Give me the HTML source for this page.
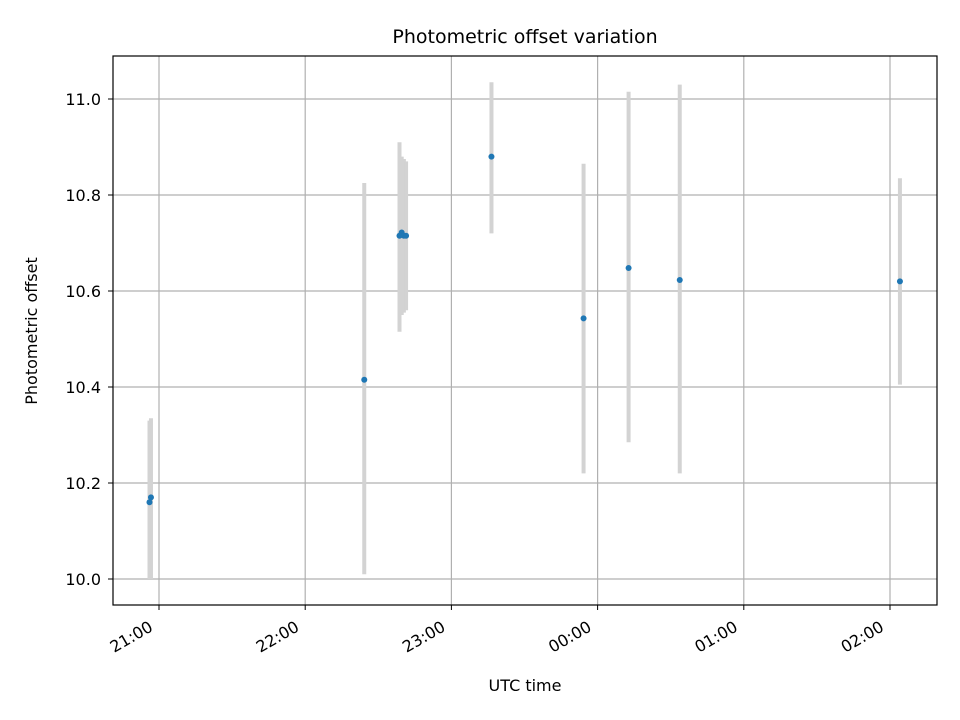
<!DOCTYPE html>
<html><head><meta charset="utf-8"><style>
body{margin:0;background:#fff}
svg{display:block;font-family:"DejaVu Sans","Liberation Sans",sans-serif}
</style></head><body>
<svg id="chart" width="960" height="720" xmlns="http://www.w3.org/2000/svg">
<rect width="960" height="720" fill="#fff"/>
<g id="grid"></g>
<g id="bars"></g>
<g id="pts"></g>
<rect x="113" y="56" width="824" height="549" fill="none" stroke="#000" stroke-width="1.2"/>
<g id="ticks" font-size="16" fill="#000"></g>
<text x="525" y="43" text-anchor="middle" font-size="19">Photometric offset variation</text>
<text x="525" y="691" text-anchor="middle" font-size="16">UTC time</text>
<text transform="translate(37,331) rotate(-90)" text-anchor="middle" font-size="16">Photometric offset</text>
</svg>
<script>
// times in hours since 00:00 of first day (values >24 are next day)
const times = [20.935, 20.945, 22.404, 22.645, 22.66, 22.675, 22.69, 23.274, 23.904, 24.212, 24.562, 26.068];
const offsets = [10.16, 10.17, 10.415, 10.715, 10.722, 10.715, 10.715, 10.88, 10.543, 10.648, 10.623, 10.62];
const lows = [10.0, 10.0, 10.01, 10.515, 10.55, 10.555, 10.56, 10.72, 10.22, 10.285, 10.22, 10.405];
const highs = [10.33, 10.335, 10.825, 10.91, 10.88, 10.875, 10.87, 11.035, 10.865, 11.015, 11.03, 10.835];
const yTicks = [10.0, 10.2, 10.4, 10.6, 10.8, 11.0];
const xTicks = [21, 22, 23, 24, 25, 26];
const xTickLabels = ["21:00", "22:00", "23:00", "00:00", "01:00", "02:00"];

const NS = "http://www.w3.org/2000/svg";
const X = t => 159 + (t - 21) * 146.2;
const Y = v => 579 - (v - 10) * 480;
function mk(tag, attrs, parent){const e=document.createElementNS(NS,tag);for(const k in attrs)e.setAttribute(k,attrs[k]);document.getElementById(parent).appendChild(e);return e;}

yTicks.forEach((v,i)=>{
  const gl=mk('line',{x1:113,x2:937,y1:Y(v),y2:Y(v),stroke:'#b0b0b0','stroke-width':1.2},'grid');
  
  
  const tk=mk('line',{x1:108,x2:113,y1:Y(v),y2:Y(v),stroke:'#000'},'ticks');
  
  
  const t=mk('text',{x:101,y:Y(v)+6,'text-anchor':'end'},'ticks');
  t.textContent=v.toFixed(1);
  
  
});
xTicks.forEach((h,i)=>{
  const x=X(h);
  const gl=mk('line',{x1:x,x2:x,y1:56,y2:605,stroke:'#b0b0b0','stroke-width':1.2},'grid');
  
  
  const tk=mk('line',{x1:x,x2:x,y1:605,y2:610,stroke:'#000'},'ticks');
  
  
  const ax=x-5, ay=630;
  const t=mk('text',{x:ax,y:ay,'text-anchor':'end',transform:`rotate(-30 ${ax} ${ay})`},'ticks');
  t.textContent=xTickLabels[i];
  
  
});
times.forEach((t,i)=>{
  const b=mk('line',{x1:X(t),x2:X(t),y1:Y(lows[i]),y2:Y(highs[i]),stroke:'#d3d3d3','stroke-width':4},'bars');
  
  
});
times.forEach((t,i)=>{
  const c=mk('circle',{cx:X(t),cy:Y(offsets[i]),r:3,fill:'#1f77b4'},'pts');
  
  
});
</script>
</body></html>
